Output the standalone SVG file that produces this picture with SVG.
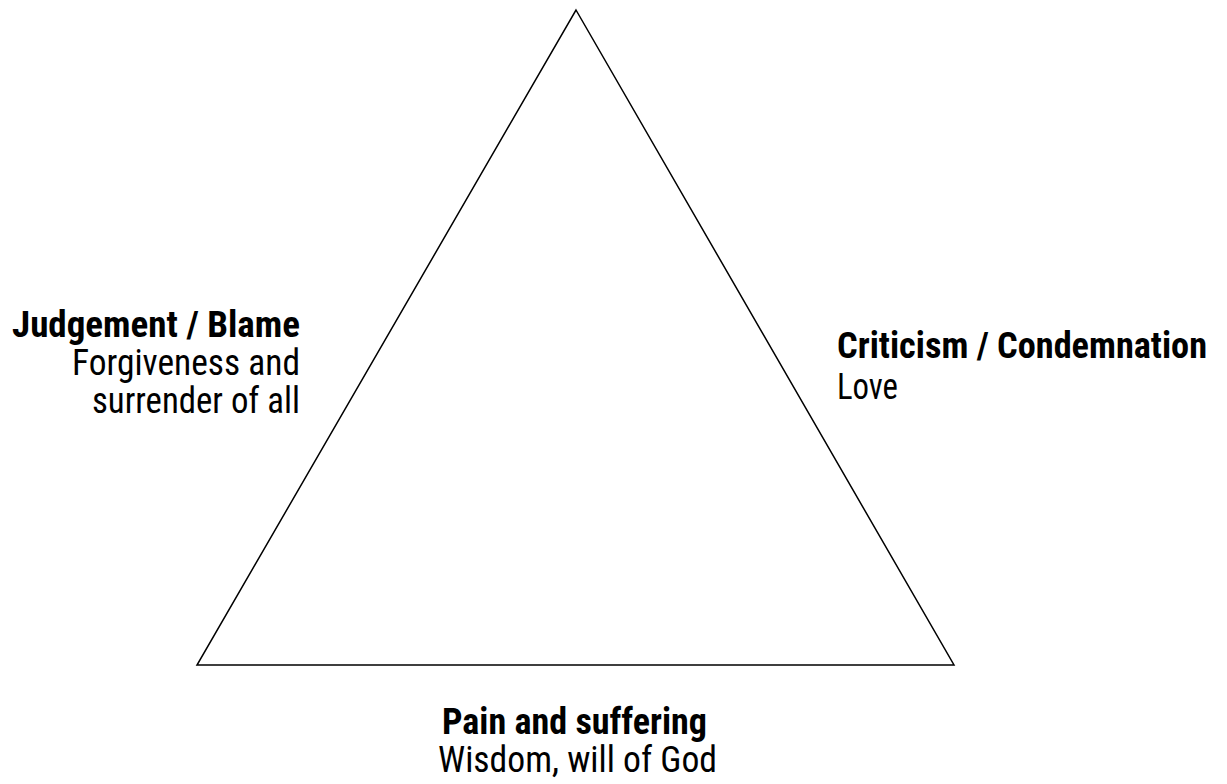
<svg xmlns="http://www.w3.org/2000/svg" width="1227" height="784" viewBox="0 0 1227 784">
<style>
.t{font-family:"Roboto Condensed","Liberation Sans Narrow","Arial Narrow","Liberation Sans",sans-serif;font-stretch:condensed;font-size:36px;fill:#000}
.b{font-weight:bold}
</style>
<rect width="1227" height="784" fill="#fff"/>
<g id="connectors">
<polygon points="576,10 954,665 197,665" fill="none" stroke="#000" stroke-width="1.5" stroke-linejoin="miter"/>
</g>
<g id="left">
<text class="t b" x="300" y="337" text-anchor="end" textLength="288" lengthAdjust="spacingAndGlyphs">Judgement / Blame</text>
<text class="t" x="300" y="375" text-anchor="end" textLength="228" lengthAdjust="spacingAndGlyphs">Forgiveness and</text>
<text class="t" x="300" y="413" text-anchor="end" textLength="208" lengthAdjust="spacingAndGlyphs">surrender of all</text>
</g>
<g id="right">
<text class="t b" x="837" y="358" textLength="370" lengthAdjust="spacingAndGlyphs">Criticism / Condemnation</text>
<text class="t" x="837" y="399" textLength="61" lengthAdjust="spacingAndGlyphs">Love</text>
</g>
<g id="bottom">
<text class="t b" x="574.5" y="734" text-anchor="middle" textLength="265" lengthAdjust="spacingAndGlyphs">Pain and suffering</text>
<text class="t" x="577.5" y="772" text-anchor="middle" textLength="279" lengthAdjust="spacingAndGlyphs">Wisdom, will of God</text>
</g>
</svg>
